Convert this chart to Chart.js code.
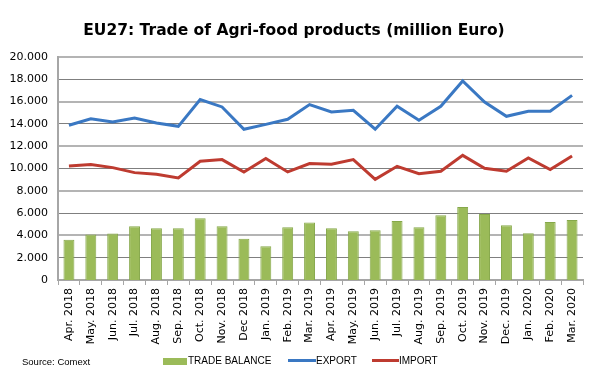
<!DOCTYPE html>
<html>
<head>
<meta charset="utf-8">
<script src="https://cdn.jsdelivr.net/npm/chart.js@4"></script>
<style>
  html, body { margin: 0; padding: 0; background: #fff; }
  #wrap { position: relative; width: 600px; height: 382px; overflow: hidden; }
  canvas { position: absolute; left: 0; top: 0; }
  .t { position: absolute; white-space: nowrap; color: #000; }
  #title { font-family: "DejaVu Sans", sans-serif; font-weight: bold; font-size: 15.5px; top: 21px; left: 0; width: 588px; text-align: center; }
  .leg { font-family: "Liberation Sans", sans-serif; font-size: 10px; top: 355px; }
  .src { font-family: "Liberation Sans", sans-serif; font-size: 9.5px; top: 356px; left: 22px; }
  .sw { position: absolute; }
</style>
</head>
<body>
<div id="wrap">
  <canvas id="c" width="600" height="382"></canvas>
  <div id="title" class="t">EU27: Trade of Agri-food products (million Euro)</div>
  <div class="t src">Source: Comext</div>
  <div class="sw" style="left:163px;top:358px;width:24px;height:7px;background:#9bbb59;"></div>
  <div class="t leg" style="left:188px;">TRADE BALANCE</div>
  <div class="sw" style="left:288px;top:359px;width:28px;height:3px;background:#3a78c3;"></div>
  <div class="t leg" style="left:316px;">EXPORT</div>
  <div class="sw" style="left:372px;top:359px;width:27px;height:3px;background:#be3b30;"></div>
  <div class="t leg" style="left:399px;">IMPORT</div>
</div>
<script>
const categories = ["Apr. 2018","May. 2018","Jun. 2018","Jul. 2018","Aug. 2018","Sep. 2018","Oct. 2018","Nov. 2018","Dec 2018","Jan. 2019","Feb. 2019","Mar. 2019","Apr. 2019","May. 2019","Jun. 2019","Jul. 2019","Aug. 2019","Sep. 2019","Oct. 2019","Nov. 2019","Dec. 2019","Jan. 2020","Feb. 2020","Mar. 2020"];
const exportValues = [13880,14460,14170,14530,14080,13780,16180,15520,13520,13960,14410,15730,15070,15220,13520,15580,14320,15580,17850,15960,14680,15130,15130,16560];
const importValues = [10230,10350,10080,9630,9480,9150,10650,10800,9690,10890,9690,10440,10380,10800,9030,10200,9540,9750,11180,10020,9750,10940,9900,11120];
const balanceValues = [3620,4070,4160,4820,4640,4640,5530,4820,3710,3020,4730,5150,4640,4370,4460,5290,4730,5800,6550,5920,4910,4190,5200,5380];
const yTickValues = [0,2000,4000,6000,8000,10000,12000,14000,16000,18000,20000];

function fmt(v) { return String(v).replace(/\B(?=(\d{3})+(?!\d))/g, "."); }

new Chart(document.getElementById('c'), {
  type: 'bar',
  data: {
    labels: categories,
    datasets: [
      { type: 'line', label: 'EXPORT', data: exportValues, borderColor: '#3a78c3', borderWidth: 3, pointRadius: 0, tension: 0, order: 1 },
      { type: 'line', label: 'IMPORT', data: importValues, borderColor: '#be3b30', borderWidth: 3, pointRadius: 0, tension: 0, order: 1 },
      { type: 'bar', label: 'TRADE BALANCE', data: balanceValues, backgroundColor: '#9bbb59', borderColor: '#86a84a', borderWidth: 1, barPercentage: 0.5, categoryPercentage: 1.0, order: 2 }
    ]
  },
  options: {
    responsive: false,
    animation: false,
    devicePixelRatio: 1,
    layout: { padding: { left: 0, right: 17, top: 57, bottom: 0 } },
    plugins: { legend: { display: false }, title: { display: false }, tooltip: { enabled: false } },
    scales: {
      x: {
        grid: { drawOnChartArea: false, drawTicks: true, tickLength: 5, color: '#a6a6a6', offset: true },
        border: { display: true, color: '#a6a6a6', width: 2 },
        ticks: { minRotation: 90, maxRotation: 90, autoSkip: false, padding: 3, color: '#000', font: { family: 'DejaVu Sans', size: 11 } },
        afterFit: (s) => { s.height = 102; }
      },
      y: {
        min: 0, max: 20000,
        afterBuildTicks: (s) => { s.ticks = yTickValues.map(v => ({ value: v })); },
        grid: {
          drawTicks: false,
          color: (ctx) => (ctx.tick && ctx.tick.value % 4000 === 0) ? '#b4b4b4' : '#7f7f7f',
          lineWidth: (ctx) => (ctx.tick && ctx.tick.value === 0) ? 0 : ((ctx.tick && ctx.tick.value % 4000 === 0) ? 2 : 1)
        },
        border: { display: true, color: '#a6a6a6', width: 2 },
        ticks: { padding: 10, color: '#000', font: { family: 'DejaVu Sans', size: 11 }, callback: (v) => fmt(v) },
        afterFit: (s) => { s.width = 58; }
      }
    }
  }
});
</script>
</body>
</html>
